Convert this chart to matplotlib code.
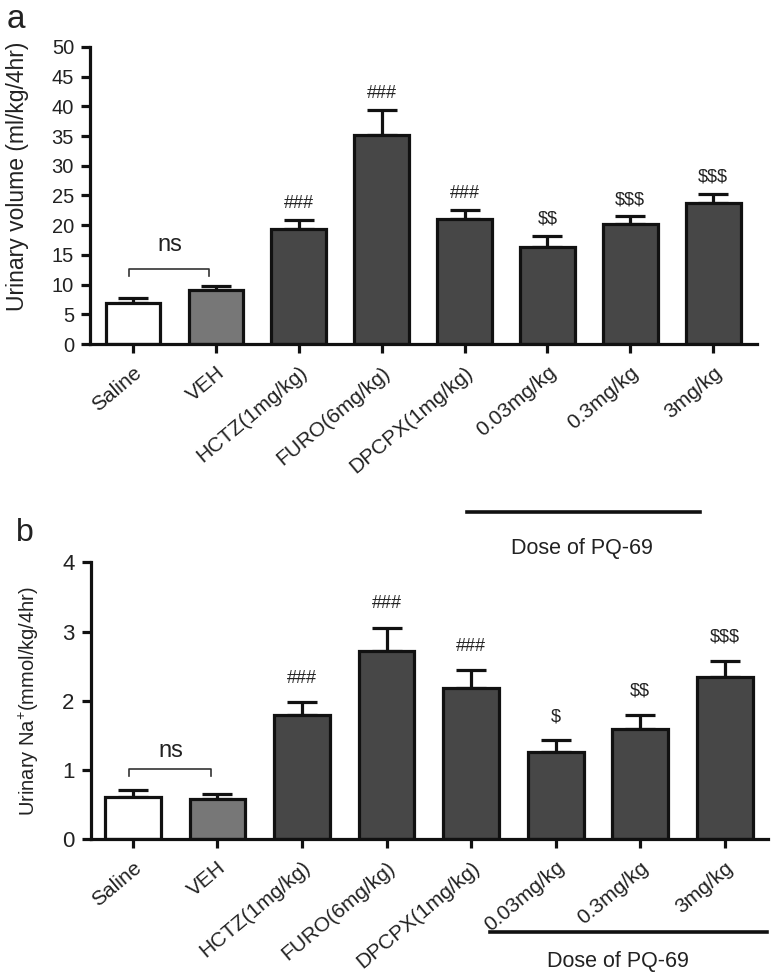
import matplotlib
matplotlib.use("Agg")
import matplotlib.pyplot as plt
import matplotlib.transforms as mtransforms

plt.rcParams['font.family'] = ['Liberation Sans', 'DejaVu Sans']
plt.rcParams['mathtext.fontset'] = 'custom'
plt.rcParams['mathtext.rm'] = 'Liberation Sans'

categories = ["Saline", "VEH", "HCTZ(1mg/kg)", "FURO(6mg/kg)", "DPCPX(1mg/kg)",
              "0.03mg/kg", "0.3mg/kg", "3mg/kg"]

volume_mean = [6.9, 9.1, 19.4, 35.2, 21.0, 16.4, 20.2, 23.7]
volume_err = [0.9, 0.7, 1.5, 4.2, 1.6, 1.8, 1.3, 1.6]
volume_marks = ["", "", "###", "###", "###", "$$", "$$$", "$$$"]

sodium_mean = [0.61, 0.58, 1.80, 2.72, 2.19, 1.26, 1.60, 2.34]
sodium_err = [0.10, 0.07, 0.18, 0.34, 0.26, 0.17, 0.20, 0.24]
sodium_marks = ["", "", "###", "###", "###", "$", "$$", "$$$"]

bar_colors = ["#ffffff", "#777777", "#474747", "#474747", "#474747",
              "#474747", "#474747", "#474747"]

fig = plt.figure(figsize=(7.73, 9.75), dpi=100)

def draw_panel(ax, means, errs, marks, ylim, yticks, ylabel, ylabel_fs, ylabel_pos,
               tick_fs, xlim, mark_off, ns_y, ns_drop, ns_text_y, dose_line, dose_text):
    x = list(range(len(categories)))
    ax.bar(x, means, width=0.66, color=bar_colors, edgecolor='#111111',
           linewidth=2.3, zorder=2)
    ax.errorbar(x, means, yerr=[[0]*len(errs), errs], fmt='none',
                ecolor='#111111', elinewidth=2.3, capsize=10.5, capthick=2.3, zorder=1)
    for xi, m, e, t in zip(x, means, errs, marks):
        if t:
            ax.annotate(t, xy=(xi, m + e), xytext=(0, mark_off),
                        textcoords='offset points', ha='center', va='center',
                        fontsize=13, color='#222222', parse_math=False)
    ax.set_xlim(*xlim)
    ax.set_ylim(*ylim)
    ax.set_yticks(yticks)
    ax.set_xticks(x)
    ax.set_xticklabels(categories, rotation=40, ha='right', va='top',
                       rotation_mode='anchor', fontsize=15, color='#222222')
    for s in ['top', 'right']:
        ax.spines[s].set_visible(False)
    for s in ['left', 'bottom']:
        ax.spines[s].set_linewidth(2.3)
        ax.spines[s].set_color('#111111')
    ax.tick_params(axis='both', width=2.3, length=6.5, color='#111111')
    ax.tick_params(axis='y', labelsize=tick_fs, pad=5, labelcolor='#222222')
    ax.tick_params(axis='x', pad=7)
    ax.set_ylabel(ylabel, fontsize=ylabel_fs, color='#222222')
    ax.yaxis.set_label_coords(*ylabel_pos)
    # ns bracket
    ax.plot([-0.05, -0.05, 0.92, 0.92], [ns_y - ns_drop, ns_y, ns_y, ns_y - ns_drop],
            color='#333333', linewidth=1.2)
    ax.text(0.45, ns_text_y, "ns", ha='center', va='center', fontsize=17, color='#222222')
    trans = mtransforms.blended_transform_factory(ax.transData, ax.transAxes)
    ax.plot(dose_line[0:2], [dose_line[2], dose_line[2]], color='#111111',
            linewidth=2.6, transform=trans, clip_on=False)
    ax.text(dose_text[0], dose_text[1], "Dose of PQ-69", ha='center', va='center',
            fontsize=15.5, transform=trans, color='#222222')

ax1 = fig.add_axes([0.1164, 0.647, 0.863, 0.305])
draw_panel(ax1, volume_mean, volume_err, volume_marks, (0, 50), range(0, 51, 5),
           "Urinary volume (ml/kg/4hr)", 16.5, (-0.092, 0.565), 14.5, (-0.519, 7.53), 12,
           12.6, 1.2, 16.6, (4.03, 6.84, -0.565), (5.42, -0.686))

ax2 = fig.add_axes([0.1173, 0.1392, 0.876, 0.2839])
draw_panel(ax2, sodium_mean, sodium_err, sodium_marks, (0, 4), range(0, 5),
           "Urinary Na$^{+}$(mmol/kg/4hr)", 14.5, (-0.074, 0.5), 16, (-0.50, 7.51), 17,
           1.01, 0.10, 1.27, (4.22, 7.50, -0.335), (5.74, -0.443))

fig.text(16/773, 1 - 19/975, "a", fontsize=24, ha='center', va='center', color='#222222')
fig.text(25/773, 1 - 533/975, "b", fontsize=23, ha='center', va='center', color='#222222')

fig.savefig("out.png", dpi=100)
